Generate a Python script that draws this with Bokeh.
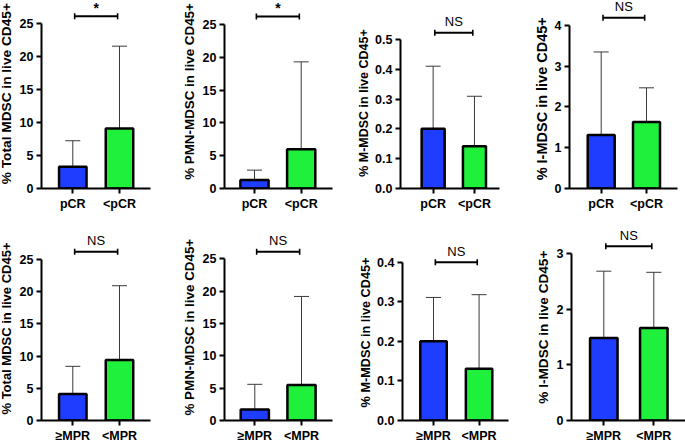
import math
from bokeh.plotting import figure
from bokeh.layouts import column, row
from bokeh.models import (Range1d, FixedTicker, Whisker, ColumnDataSource, TeeHead,
                          PrintfTickFormatter, GlobalInlineStyleSheet)
from bokeh.embed import file_html
from bokeh.resources import INLINE
from bokeh.core.properties import value

# ---------------- data ----------------
top_groups = ["pCR", "<pCR"]
bottom_groups = ["\u2265MPR", "<MPR"]

y_titles = ["% Total MDSC in live CD45+", "% PMN-MDSC in live CD45+",
            "% M-MDSC in live CD45+", "% I-MDSC in live CD45+"]

# mean values and mean+SD (upper end of error bar)
total_pcr_mean = [3.3, 9.1]
total_pcr_upper = [7.25, 21.6]
pmn_pcr_mean = [1.3, 6.0]
pmn_pcr_upper = [2.8, 19.3]
m_pcr_mean = [0.201, 0.142]
m_pcr_upper = [0.411, 0.31]
i_pcr_mean = [1.31, 1.63]
i_pcr_upper = [3.35, 2.47]

total_mpr_mean = [4.1, 9.4]
total_mpr_upper = [8.4, 20.9]
pmn_mpr_mean = [1.7, 5.5]
pmn_mpr_upper = [5.6, 19.2]
m_mpr_mean = [0.2, 0.131]
m_mpr_upper = [0.311, 0.318]
i_mpr_mean = [1.48, 1.66]
i_mpr_upper = [2.68, 2.66]

significance_top = ["*", "*", "NS", "NS"]
significance_bottom = ["NS", "NS", "NS", "NS"]

axis_max_top = [25, 25, 0.5, 4]
axis_step_top = [5, 5, 0.1, 1]
axis_max_bottom = [25, 25, 0.4, 3]
axis_step_bottom = [5, 5, 0.1, 1]

# ---------------- styles / layout (pixel geometry) ----------------
BLUE = "#1f3dff"
GREEN = "#1ff03c"
FONT = "Liberation Sans"
col_edges = [0, 170, 340, 510, 685]
row_edges = [0, 220, 445]

# axis_x, frame_right, center1, center2, top_tick_y, zero_y, sig_y,
# bar visual width, title size, title baseline x, title center y
geo = [
    (41, 150, 72.3, 119.0, 23.3, 188.3, 15.7, 30.0, 13.7, 10.5, 109.0),
    (224, 332, 254.0, 300.7, 24.0, 188.3, 16.0, 30.7, 13.4, 194.0, 106.5),
    (395, 499, 429.3, 472.7, 39.3, 188.3, 32.3, 26.7, 12.5, 368.0, 120.0),
    (569, 677, 600.7, 646.0, 25.0, 188.3, 17.3, 29.5, 14.5, 547.0, 115.0),
    (41, 150, 72.3, 119.0, 259.3, 422.7, 251.7, 30.0, 13.0, 11.0, 341.5),
    (224, 332, 254.3, 301.0, 259.0, 422.7, 251.7, 30.7, 13.4, 194.0, 340.0),
    (401, 508, 432.3, 478.3, 262.3, 422.7, 262.3, 29.2, 12.7, 370.5, 346.0),
    (571, 685, 603.3, 653.3, 253.3, 422.7, 246.0, 30.0, 13.6, 548.0, 340.0),
]

means = [total_pcr_mean, pmn_pcr_mean, m_pcr_mean, i_pcr_mean,
         total_mpr_mean, pmn_mpr_mean, m_mpr_mean, i_mpr_mean]
uppers = [total_pcr_upper, pmn_pcr_upper, m_pcr_upper, i_pcr_upper,
          total_mpr_upper, pmn_mpr_upper, m_mpr_upper, i_mpr_upper]


def make_panel(k):
    r, c = divmod(k, 4)
    groups = top_groups if r == 0 else bottom_groups
    top_val = (axis_max_top if r == 0 else axis_max_bottom)[c]
    step = (axis_step_top if r == 0 else axis_step_bottom)[c]
    sig = (significance_top if r == 0 else significance_bottom)[c]
    ax_x, fr_r, c1, c2, tt_y, z_y, sg_y, bw_px, lab_size, lab_x, lab_y = geo[k]
    col_x = col_edges[c]
    row_y = row_edges[r]
    W = col_edges[c + 1] - col_edges[c]
    H = row_edges[r + 1] - row_edges[r]

    ppu = (z_y - tt_y) / top_val
    spacing = c2 - c1
    ye = top_val + (tt_y - row_y) / ppu
    sig_y = top_val + (tt_y - sg_y) / ppu
    bottom = H - round(z_y - row_y)

    # --- narrow strip holding the rotated y title (pixel coordinates) ---
    tw = round(lab_x - col_x + 4)
    t = figure(width=tw, height=H, x_range=Range1d(col_x, col_x + tw),
               y_range=Range1d(row_y + H, row_y),
               x_axis_type=None, y_axis_type=None,
               output_backend="svg", toolbar_location=None,
               min_border_left=0, min_border_right=0,
               min_border_top=0, min_border_bottom=0)
    t.outline_line_color = None
    t.background_fill_color = "white"
    t.border_fill_color = "white"
    t.text(x=[lab_x - 0.36 * lab_size], y=[lab_y], text=[y_titles[c]],
           angle=math.pi / 2, text_align="center", text_baseline="middle",
           text_font=value(FONT), text_font_style="bold",
           text_font_size=f"{lab_size}px", text_color="black")

    # --- main plot ---
    mw = W - tw
    left = round(ax_x - col_x) - tw
    right = W - round(fr_r - col_x)
    xs = 1 - (c1 - ax_x) / spacing
    xe = 2 + (fr_r - c2) / spacing

    p = figure(width=mw, height=H, x_range=Range1d(xs, xe), y_range=Range1d(0, ye),
               output_backend="svg", toolbar_location=None,
               min_border_left=left, min_border_right=right,
               min_border_top=0, min_border_bottom=bottom)
    p.outline_line_color = None
    p.xgrid.visible = False
    p.ygrid.visible = False
    p.background_fill_color = "white"
    p.border_fill_color = "white"

    xs_pos = [1, 2]
    src = ColumnDataSource(dict(x=xs_pos, top=means[k], upper=uppers[k],
                                color=[BLUE, GREEN]))
    bw = (bw_px - 2.5) / spacing
    p.vbar(x="x", top="top", bottom=0, width=bw, source=src, fill_color="color",
           line_color="black", line_width=2.5)
    wh = Whisker(source=src, base="x", upper="upper", lower="top", dimension="height",
                 line_color="#3a3a3a", line_width=1,
                 upper_head=TeeHead(size=15, line_color="#3a3a3a", line_width=1),
                 lower_head=None)
    p.add_layout(wh)

    # significance bracket
    p.segment(x0=[1.04], y0=[sig_y], x1=[1.96], y1=[sig_y], line_color="black", line_width=2)
    p.scatter(x=[1.04, 1.96], y=[sig_y, sig_y], marker="dash", angle=math.pi / 2,
              size=6, line_color="black", line_width=1.6)
    if sig == "*":
        p.text(x=[1.5], y=[sig_y + 8.0 / ppu], text=[sig], text_align="center",
               text_baseline="alphabetic", text_font=value(FONT), text_font_style="bold",
               text_font_size="14px", text_color="black")
    else:
        p.text(x=[1.5], y=[sig_y + 11.0 / ppu], text=[sig], text_align="center",
               text_baseline="alphabetic", text_font=value(FONT),
               text_font_size="13px", text_color="black")

    # axes
    yticks = [round(i * step, 3) for i in range(int(round(top_val / step)) + 1)]
    p.yaxis.ticker = FixedTicker(ticks=yticks)
    p.yaxis.formatter = PrintfTickFormatter(format="%.1f" if step < 1 else "%d")
    p.yaxis.bounds = (0, top_val)
    p.yaxis.major_label_standoff = 3

    p.xaxis.ticker = FixedTicker(ticks=xs_pos)
    p.xaxis.major_label_overrides = {1: groups[0], 2: groups[1]}
    p.xaxis.major_label_standoff = 3
    p.xaxis.major_label_text_font_size = "12.5px"

    for ax in (p.xaxis[0], p.yaxis[0]):
        ax.axis_line_width = 2
        ax.axis_line_color = "black"
        ax.major_tick_line_width = 2
        ax.major_tick_line_color = "black"
        ax.major_tick_out = 5
        ax.major_tick_in = 0
        ax.minor_tick_line_color = None
        ax.major_label_text_font = FONT
        ax.major_label_text_font_style = "bold"
        ax.major_label_text_color = "black"
    p.yaxis.major_label_text_font_size = "12.5px"
    return row(t, p)


panels = [make_panel(k) for k in range(8)]
layout = column(row(*panels[:4]), row(*panels[4:]),
                stylesheets=[GlobalInlineStyleSheet(css="html, body { margin: 0; padding: 0; }")])

open("out.html", "w").write(file_html(layout, INLINE))
